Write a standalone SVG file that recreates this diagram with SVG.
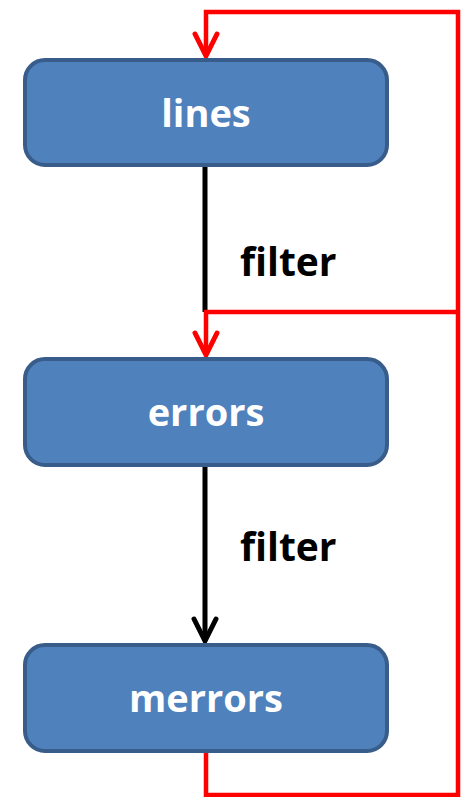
<svg xmlns="http://www.w3.org/2000/svg" width="465" height="797" viewBox="0 0 465 797">
  <style>
    .box { fill: #4F81BD; stroke: #385D8A; stroke-width: 4; }
    .lbl { font-family: "Open Sans", "Liberation Sans", sans-serif; font-weight: bold; font-size: 38px; fill: #FFFFFF; text-anchor: middle; }
    .edge { font-family: "Open Sans", "Liberation Sans", sans-serif; font-weight: bold; font-size: 39px; fill: #000000; }
    .blk { fill: none; stroke: #000000; stroke-width: 5; }
    .red { fill: none; stroke: #FF0000; stroke-width: 4.5; }
  </style>
  <defs>
    <marker id="arrRed" markerUnits="userSpaceOnUse" markerWidth="30" markerHeight="30" viewBox="-26 -15 30 30" refX="0" refY="0" orient="auto" overflow="visible">
      <path d="M -22 -11 L 0 0 L -22 11" fill="none" stroke="#FF0000" stroke-width="5" stroke-linecap="round" stroke-linejoin="miter"/>
    </marker>
    <marker id="arrBlk" markerUnits="userSpaceOnUse" markerWidth="30" markerHeight="30" viewBox="-26 -15 30 30" refX="0" refY="0" orient="auto" overflow="visible">
      <path d="M -22 -11 L 0 0 L -22 11" fill="none" stroke="#000000" stroke-width="5" stroke-linecap="round" stroke-linejoin="miter"/>
    </marker>
  </defs>
  <rect width="465" height="797" fill="#FFFFFF"/>
  <g id="connectors">
    <path class="blk" d="M 205 166 L 205 312"/>
    <path class="blk" d="M 205 466 L 205 641" marker-end="url(#arrBlk)"/>
    <path class="red" d="M 206 752 L 206 795 L 458 795 L 458 12 L 206 12 L 206 56" marker-end="url(#arrRed)"/>
    <path class="red" d="M 458 312 L 206 312 L 206 355" marker-end="url(#arrRed)"/>
    <text class="edge" x="240" y="276">filter</text>
    <text class="edge" x="240" y="561">filter</text>
  </g>
  <g id="lines">
    <rect class="box" x="25" y="60" width="362" height="105" rx="20" ry="20"/>
    <text class="lbl" x="206" y="127">lines</text>
  </g>
  <g id="errors">
    <rect class="box" x="25" y="359" width="362" height="106" rx="20" ry="20"/>
    <text class="lbl" x="206" y="426">errors</text>
  </g>
  <g id="merrors">
    <rect class="box" x="25" y="645" width="362" height="106" rx="20" ry="20"/>
    <text class="lbl" x="206" y="712">merrors</text>
  </g>
</svg>
